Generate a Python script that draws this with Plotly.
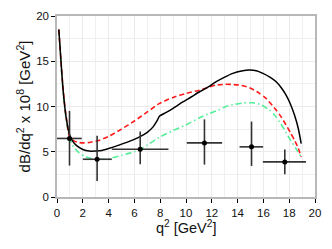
import plotly.graph_objects as go

# Data points (measurement)
data_x = [0.97, 3.11, 6.45, 11.43, 15.08, 17.66]
data_y = [6.47, 4.17, 5.28, 5.98, 5.54, 3.88]
x_err_minus = [0.97, 1.11, 2.2, 1.37, 0.93, 1.7]
x_err_plus = [0.95, 1.14, 2.19, 1.37, 0.9, 1.64]
y_err_plus = [3.05, 2.59, 1.96, 2.6, 2.8, 1.37]
y_err_minus = [3.0, 2.4, 1.66, 2.4, 2.11, 1.37]

# Black solid curve
black_x = [0.14, 0.3, 0.45, 0.6, 0.75, 0.95, 1.2, 1.5, 2.0, 2.5, 3.0, 3.5, 4.0, 4.8,
           5.6, 6.4, 7.0, 7.45, 7.75, 7.95, 8.4, 9.0, 9.75, 10.4, 11.05, 11.6, 12.34,
           13.0, 13.63, 14.3, 14.92, 15.45, 15.96, 16.5, 16.99, 17.4, 17.76, 18.1,
           18.41, 18.7, 18.93]
black_y = [18.5, 15.2, 12.2, 10.0, 8.4, 7.0, 6.2, 5.7, 5.25, 5.07, 5.08, 5.15, 5.35, 5.73,
           6.15, 6.65, 7.15, 7.75, 8.4, 8.94, 9.3, 9.8, 10.5, 11.05, 11.63, 12.05, 12.74,
           13.25, 13.66, 13.92, 14.03, 13.95, 13.66, 13.25, 12.74, 12.05, 11.26, 10.25,
           9.05, 7.6, 5.9]

# Red dashed curve
red_x = [0.14, 0.3, 0.45, 0.6, 0.75, 0.97, 1.3, 1.7, 2.13, 2.6, 3.29, 4.0, 5.0, 6.0,
         7.0, 7.95, 9.0, 10.0, 11.05, 11.6, 12.34, 13.0, 13.5, 14.2, 14.92, 15.6,
         16.2, 16.99, 17.4, 17.76, 18.1, 18.41, 18.7, 18.93]
red_y = [18.5, 15.2, 12.3, 10.1, 8.5, 6.65, 6.2, 6.02, 5.98, 6.05, 6.28, 6.7, 7.5, 8.4,
         9.4, 10.34, 11.0, 11.45, 11.8, 12.05, 12.37, 12.45, 12.44, 12.35, 12.07, 11.55,
         10.9, 9.6, 8.8, 7.94, 7.1, 6.28, 5.4, 4.43]

# Green dash-dot curve
green_x = [0.14, 0.3, 0.45, 0.6, 0.75, 0.97, 1.3, 1.7, 2.2, 2.7, 3.1, 3.6, 4.07, 5.0,
           6.0, 6.45, 7.17, 7.95, 9.0, 9.96, 11.05, 11.82, 12.5, 13.1, 13.8, 14.5,
           15.18, 15.8, 16.47, 16.9, 17.25, 17.65, 18.02, 18.5, 18.93]
green_y = [18.5, 15.0, 12.0, 9.8, 8.2, 6.5, 5.5, 4.9, 4.45, 4.25, 4.17, 4.17, 4.25, 4.6,
           5.0, 5.25, 5.9, 6.6, 7.35, 7.94, 8.75, 9.23, 9.6, 10.0, 10.25, 10.4,
           10.41, 10.2, 9.6, 9.0, 8.3, 7.4, 6.47, 5.4, 4.43]

x_ticks = [0, 2, 4, 6, 8, 10, 12, 14, 16, 18, 20]
y_ticks = [0, 5, 10, 15, 20]

x_title = "q<sup>2</sup> [GeV<sup>2</sup>]"
y_title = "dB/dq<sup>2</sup> x 10<sup>8</sup> [GeV<sup>2</sup>]"

fig = go.Figure()

fig.add_trace(go.Scatter(x=green_x, y=green_y, mode="lines",
                         line=dict(color="#55ee99", width=1.6, dash="6px,3px,1.5px,3px", shape="spline", smoothing=0.6),
                         hoverinfo="skip"))
fig.add_trace(go.Scatter(x=red_x, y=red_y, mode="lines",
                         line=dict(color="#ff1a1a", width=1.6, dash="5px,3px", shape="spline", smoothing=0.6),
                         hoverinfo="skip"))
fig.add_trace(go.Scatter(x=black_x, y=black_y, mode="lines",
                         line=dict(color="black", width=1.5, shape="spline", smoothing=0.6),
                         hoverinfo="skip"))
fig.add_trace(go.Scatter(x=data_x, y=data_y, mode="markers",
                         marker=dict(color="black", size=5),
                         error_x=dict(type="data", symmetric=False, array=x_err_plus,
                                      arrayminus=x_err_minus, color="#333333", thickness=1.6, width=0),
                         error_y=dict(type="data", symmetric=False, array=y_err_plus,
                                      arrayminus=y_err_minus, color="#333333", thickness=1.6, width=0)))

axis_common = dict(showline=True, linecolor="#b8b8b8", linewidth=1.5, mirror=True,
                   ticks="outside", tickcolor="black", ticklen=4, tickwidth=1,
                   showgrid=True, gridcolor="#ebebeb", gridwidth=1, zeroline=False,
                   automargin=False,
                   tickfont=dict(family="Liberation Sans, Arial", size=11.5, color="#111"))

# page body has an 8px default margin, so the figure is a bit smaller and offset
fig.update_layout(
    width=324, height=241,
    margin=dict(l=49, r=17, t=8, b=52, autoexpand=False),
    paper_bgcolor="white", plot_bgcolor="white",
    showlegend=False,
    font=dict(family="Liberation Sans, Arial", color="#111"),
    xaxis=dict(range=[0, 20], tickvals=x_ticks,
               minor=dict(dtick=1, showgrid=True, gridcolor="#f0f0f0", ticks=""),
               **axis_common),
    yaxis=dict(range=[0, 20], tickvals=y_ticks,
               title=dict(text=y_title, font=dict(size=15), standoff=2),
               minor=dict(dtick=2.5, showgrid=True, gridcolor="#f0f0f0", ticks=""),
               **axis_common),
    annotations=[dict(text=x_title, xref="paper", yref="paper", x=0.5, y=0,
                      xanchor="center", yanchor="top", yshift=-20, showarrow=False,
                      borderpad=0, font=dict(size=14.5, color="#111"))],
)

fig.write_html("out.html")
